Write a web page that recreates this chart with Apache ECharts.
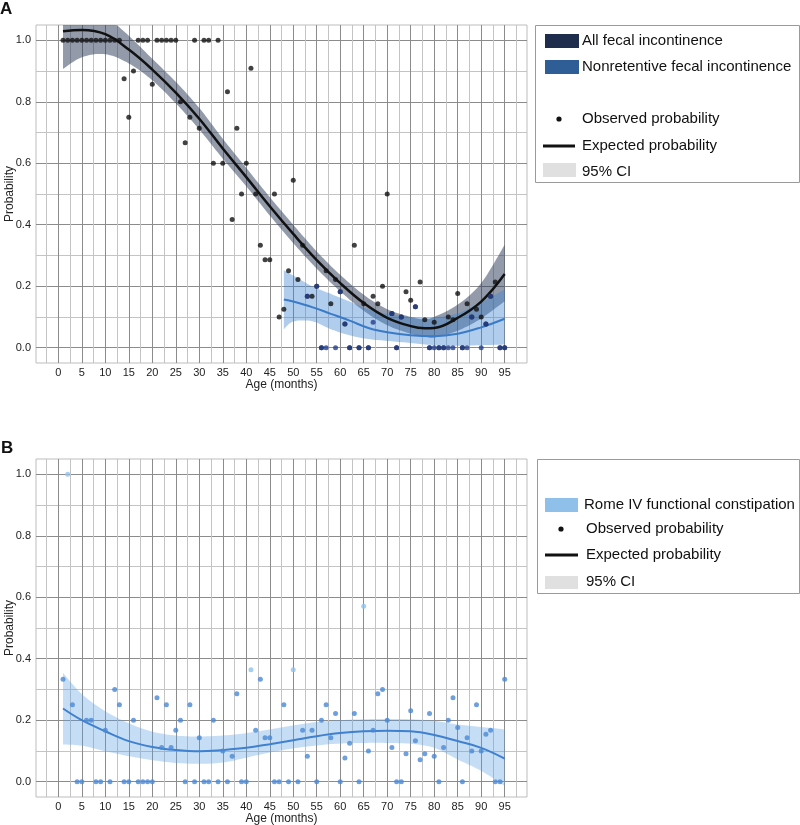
<!DOCTYPE html>
<html>
<head>
<meta charset="utf-8">
<script src="https://cdn.jsdelivr.net/npm/echarts@6/dist/echarts.min.js"></script>
<style>html,body{margin:0;padding:0;background:#fff}#c{width:800px;height:825px}</style>
</head>
<body>
<div id="c"></div>
<script>
// ---------- Panel A: fecal incontinence ----------
var allObsMonths = [1,2,3,4,5,6,7,8,9,10,11,12,13,14,15,16,17,18,19,20,21,22,23,24,25,26,27,28,29,30,31,32,33,34,35,36,37,38,39,40,41,42,43,44,45,46,47,48,49,50,51,52,53,54,55,56,57,58,59,60,61,62,63,64,65,66,67,68,69,70,71,72,73,74,75,76,77,78,79,80,81,82,83,84,85,86,87,88,89,90,91,92,93,94,95];
var allObsValues = [1,1,1,1,1,1,1,1,1,1,1,1,1,0.875,0.75,0.9,1,1,1,0.857,1,1,1,1,1,0.8,0.667,0.75,1,0.714,1,1,0.6,1,0.6,0.833,0.417,0.714,0.5,0.6,0.909,0.5,0.333,0.286,0.286,0.5,0.1,0.125,0.25,0.545,0.222,0.333,0.167,0.167,0.2,0,0.25,0.143,0.222,0.182,0.077,0,0.333,0,0.143,0,0.167,0.143,0.2,0.5,0.111,0,0.1,0.182,0.154,0.133,0.214,0.091,0,0.083,0,0,0.1,0.091,0.176,0,0.143,0.1,0.125,0.1,0.077,0.167,0.214,0,0];

var nrObsMonths = [53,55,56,57,59,60,61,62,64,66,67,71,72,73,76,79,80,81,82,83,84,86,87,88,90,91,92,94,95];
var nrObsValues = [0.167,0.2,0,0,0,0.182,0.077,0,0,0,0.083,0.111,0,0.1,0.133,0,0,0,0,0,0,0,0,0.1,0,0.077,0.167,0,0];

var allFitMonths = [1,5,10,15,20,25,30,35,40,45,50,55,60,65,70,75,78,80,85,90,95];
var allFitValues = [1.03,1.034,1.02,0.97,0.905,0.83,0.745,0.648,0.555,0.46,0.37,0.285,0.21,0.145,0.097,0.07,0.063,0.064,0.097,0.15,0.24];
var allFitLower  = [0.907,0.945,0.955,0.925,0.87,0.795,0.71,0.615,0.525,0.43,0.34,0.257,0.183,0.12,0.073,0.045,0.037,0.033,0.055,0.095,0.151];
var allFitUpper  = [1.16,1.13,1.08,1.015,0.94,0.865,0.78,0.68,0.585,0.49,0.4,0.313,0.237,0.172,0.125,0.1,0.092,0.1,0.14,0.21,0.335];

var nrFitMonths = [48,50,54,58,62,66,70,75,80,85,90,95];
var nrFitValues = [0.157,0.15,0.132,0.11,0.088,0.064,0.05,0.04,0.037,0.045,0.066,0.094];
var nrFitLower  = [0.06,0.085,0.086,0.06,0.04,0.028,0.022,0.015,0.008,0.006,0.008,0.01];
var nrFitUpper  = [0.252,0.235,0.2,0.175,0.15,0.125,0.11,0.1,0.098,0.112,0.148,0.189];

// ---------- Panel B: Rome IV functional constipation ----------
var romeObsMonths = [1,3,4,5,6,7,8,9,10,11,12,13,14,15,16,17,18,19,20,21,22,23,24,25,26,27,28,29,30,31,32,33,34,35,36,37,38,39,40,42,43,44,45,46,47,48,49,51,52,53,54,55,56,57,58,59,60,61,62,63,64,66,67,68,69,70,71,72,73,74,75,76,77,78,79,80,81,82,83,84,85,86,87,88,89,90,91,92,93,94,95];
var romeObsValues = [0.333,0.25,0,0,0.2,0.2,0,0,0.167,0,0.3,0.25,0,0,0.2,0,0,0,0,0.273,0.111,0.25,0.111,0.167,0.2,0,0.25,0,0.143,0,0,0.2,0,0.1,0,0.083,0.286,0,0,0.167,0.333,0.143,0.143,0,0,0.25,0,0,0.167,0.083,0.167,0,0.2,0.25,0.143,0.222,0,0.077,0.125,0.222,0,0.1,0.167,0.286,0.3,0.2,0.111,0,0,0.091,0.231,0.133,0.071,0.091,0.222,0.083,0,0.111,0.2,0.273,0.176,0,0.143,0.1,0.25,0.1,0.154,0.167,0,0,0.333];
var romeSparseMonths = [2,41,50,65];
var romeSparseValues = [1.0,0.364,0.364,0.571];

var romeFitMonths = [1,5,10,15,20,25,30,35,40,45,50,55,60,65,70,75,80,85,90,95];
var romeFitValues = [0.238,0.2,0.164,0.132,0.113,0.103,0.099,0.103,0.11,0.122,0.135,0.148,0.158,0.164,0.166,0.164,0.152,0.132,0.11,0.075];
var romeFitLower  = [0.121,0.117,0.099,0.083,0.07,0.061,0.058,0.062,0.078,0.095,0.108,0.118,0.124,0.126,0.126,0.123,0.11,0.072,0.035,-0.014];
var romeFitUpper  = [0.354,0.285,0.229,0.19,0.163,0.15,0.147,0.15,0.158,0.17,0.183,0.194,0.2,0.203,0.204,0.203,0.198,0.186,0.178,0.17];

var xTickLabels = [0,5,10,15,20,25,30,35,40,45,50,55,60,65,70,75,80,85,90,95];
var xGridValues = [-2.5,0,2.5,5,7.5,10,12.5,15,17.5,20,22.5,25,27.5,30,32.5,35,37.5,40,42.5,45,47.5,50,52.5,55,57.5,60,62.5,65,67.5,70,72.5,75,77.5,80,82.5,85,87.5,90,92.5,95,97.5];
var yTickLabels = [0,0.2,0.4,0.6,0.8,1.0];
var yGridValues = [0,0.1,0.2,0.3,0.4,0.5,0.6,0.7,0.8,0.9,1.0];

// ---------- helpers ----------
function pairs(xs, ys){ return xs.map(function(x,i){ return [x, ys[i]]; }); }

// Catmull-Rom smoothing of pixel points (rendering only)
function spline(p){
  var out = [], n = p.length, steps = 10;
  for (var i = 0; i < n - 1; i++){
    var p0 = p[Math.max(0,i-1)], p1 = p[i], p2 = p[i+1], p3 = p[Math.min(n-1,i+2)];
    for (var s = 0; s < steps; s++){
      var t = s/steps, t2 = t*t, t3 = t2*t;
      out.push([
        0.5*((2*p1[0]) + (-p0[0]+p2[0])*t + (2*p0[0]-5*p1[0]+4*p2[0]-p3[0])*t2 + (-p0[0]+3*p1[0]-3*p2[0]+p3[0])*t3),
        0.5*((2*p1[1]) + (-p0[1]+p2[1])*t + (2*p0[1]-5*p1[1]+4*p2[1]-p3[1])*t2 + (-p0[1]+3*p1[1]-3*p2[1]+p3[1])*t3)
      ]);
    }
  }
  out.push(p[n-1]);
  return out;
}

var FONT = '"Liberation Sans", Arial, Helvetica, sans-serif';
var MAJOR = '#8c8c8c', MINOR = '#c4c4c4';

function xAxisFor(idx){
  return {
    type:'value', gridIndex:idx, min:-4.75, max:99.75,
    axisLine:{show:false},
    axisTick:{show:false, customValues:xGridValues},
    axisLabel:{customValues:xTickLabels, fontSize:11, color:'#222', margin:4, fontFamily:FONT},
    splitLine:{show:true, lineStyle:{color:[MINOR, MAJOR], width:1}},
    name:'Age (months)', nameLocation:'middle', nameGap:16, nameMoveOverlap:false,
    nameTextStyle:{fontSize:12, color:'#222', fontFamily:FONT}
  };
}
function yAxisFor(idx){
  return {
    type:'value', gridIndex:idx, min:-0.05, max:1.05,
    axisLine:{show:false},
    axisTick:{show:false, customValues:yGridValues},
    axisLabel:{customValues:yTickLabels, fontSize:11, color:'#222', margin:5, fontFamily:FONT,
      formatter:function(v){ return v.toFixed(1); }},
    splitLine:{show:true, lineStyle:{color:[MAJOR, MINOR], width:1}},
    name:'Probability', nameLocation:'middle', nameGap:20, nameRotate:90, nameMoveOverlap:false,
    nameTextStyle:{fontSize:12, color:'#222', fontFamily:FONT}
  };
}
function band(idx, xs, lo, hi, color, z){
  return {
    type:'custom', xAxisIndex:idx, yAxisIndex:idx, z:z, silent:true,
    data:[[xs[0], lo[0]]],
    renderItem:function(params, api){
      var up = xs.map(function(x,i){ return api.coord([x, hi[i]]); });
      var dn = xs.map(function(x,i){ return api.coord([x, lo[i]]); });
      var pts = spline(up).concat(spline(dn).reverse());
      var cs = params.coordSys;
      pts = echarts.graphic.clipPointsByRect(pts, {x:cs.x, y:cs.y, width:cs.width, height:cs.height});
      return {type:'polygon', shape:{points:pts}, style:{fill:color}};
    }
  };
}
function fitLine(idx, xs, ys, color, w, z){
  return {type:'line', xAxisIndex:idx, yAxisIndex:idx, smooth:0.4, symbol:'none', silent:true, z:z,
    lineStyle:{color:color, width:w}, data:pairs(xs, ys)};
}
function dots(idx, xs, ys, color, z){
  return {type:'scatter', xAxisIndex:idx, yAxisIndex:idx, symbolSize:5, silent:true, z:z,
    itemStyle:{color:color}, data:pairs(xs, ys)};
}

var series = [
  band(0, allFitMonths, allFitLower, allFitUpper, 'rgba(40,55,85,0.5)', 2),
  band(0, nrFitMonths, nrFitLower, nrFitUpper, 'rgba(60,130,210,0.4)', 3),
  fitLine(0, allFitMonths, allFitValues, '#111', 2.5, 5),
  fitLine(0, nrFitMonths, nrFitValues, '#3a7bc8', 2, 5),
  dots(0, allObsMonths, allObsValues, '#111', 6),
  dots(0, nrObsMonths, nrObsValues, '#243f8c', 7),
  band(1, romeFitMonths, romeFitLower, romeFitUpper, 'rgba(90,160,225,0.35)', 2),
  fitLine(1, romeFitMonths, romeFitValues, '#3f80d0', 2, 5),
  dots(1, romeObsMonths, romeObsValues, '#4a88d5', 6),
  dots(1, romeSparseMonths, romeSparseValues, '#8ec2ee', 6)
];

function rect(x, y, w, h, fill, stroke){
  return {type:'rect', shape:{x:x, y:y, width:w, height:h},
    style:{fill:fill||'none', stroke:stroke||null, lineWidth:stroke?1:0}};
}
function textAt(x, y, s, size, bold){
  return {type:'text', x:x, y:y, style:{text:s, fontSize:size||15, fontFamily:FONT, fill:'#111',
    fontWeight:bold?'bold':'normal', verticalAlign:'middle', align:'left'}};
}

var graphics = [
  textAt(0, 9, 'A', 17, true),
  textAt(1, 448, 'B', 17, true),
  // legend A
  rect(535.5, 25.5, 264, 157, null, '#9a9a9a'),
  rect(545, 34, 34, 14, '#1f2d4d'),
  textAt(582, 41, 'All fecal incontinence'),
  rect(545, 60, 34, 14, '#2e5e95'),
  textAt(582, 67, 'Nonretentive fecal incontinence'),
  {type:'circle', shape:{cx:559, cy:119, r:2.6}, style:{fill:'#111'}},
  textAt(582, 119, 'Observed probability'),
  {type:'line', shape:{x1:543, y1:146, x2:575, y2:146}, style:{stroke:'#111', lineWidth:3}},
  textAt(582, 146, 'Expected probability'),
  rect(543, 163, 33, 14, '#e0e0e0'),
  textAt(582, 172, '95% CI'),
  // legend B
  rect(537.5, 459.5, 262, 134, null, '#9a9a9a'),
  rect(545, 498, 33, 14, '#8fc0ea'),
  textAt(584, 505, 'Rome IV functional constipation'),
  {type:'circle', shape:{cx:561, cy:529, r:2.6}, style:{fill:'#111'}},
  textAt(586, 529, 'Observed probability'),
  {type:'line', shape:{x1:545, y1:555, x2:578, y2:555}, style:{stroke:'#111', lineWidth:3}},
  textAt(586, 555, 'Expected probability'),
  rect(545, 576, 33, 13, '#e0e0e0'),
  textAt(586, 582, '95% CI')
];

var chart = echarts.init(document.getElementById('c'), null, {renderer:'canvas'});
chart.setOption({
  animation:false,
  backgroundColor:'#fff',
  textStyle:{fontFamily:FONT},
  grid:[
    {left:36, top:25, width:491, height:338, show:true, borderColor:'#bdbdbd', borderWidth:1, containLabel:false, outerBoundsMode:'none'},
    {left:36, top:459, width:491, height:338, show:true, borderColor:'#bdbdbd', borderWidth:1, containLabel:false, outerBoundsMode:'none'}
  ],
  xAxis:[xAxisFor(0), xAxisFor(1)],
  yAxis:[yAxisFor(0), yAxisFor(1)],
  series:series,
  graphic:graphics
});
</script>
</body>
</html>
